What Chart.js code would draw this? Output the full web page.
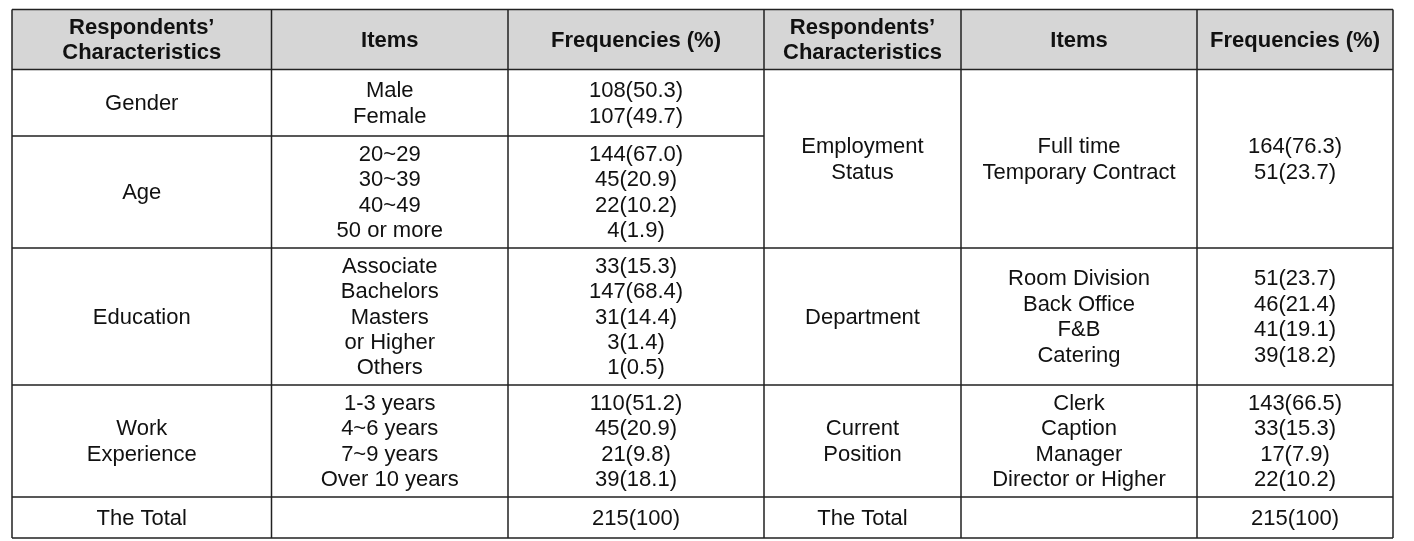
<!DOCTYPE html>
<html>
<head>
<meta charset="utf-8">
<script src="https://cdn.jsdelivr.net/npm/chart.js@4"></script>
<style>
  html, body { margin: 0; padding: 0; background: #fff; }
  #wrap { width: 1414px; height: 541px; }
</style>
</head>
<body>
<div id="wrap"><canvas id="table" width="1414" height="541"></canvas></div>
<script>
const headers = ["Respondents’\nCharacteristics", 'Items', 'Frequencies (%)'];

const leftGroups = ['Gender', 'Age', 'Education', 'Work\nExperience', 'The Total'];
const leftItems = [
  ['Male', 'Female'],
  ['20~29', '30~39', '40~49', '50 or more'],
  ['Associate', 'Bachelors', 'Masters', 'or Higher', 'Others'],
  ['1-3 years', '4~6 years', '7~9 years', 'Over 10 years'],
  []
];
const leftCounts = [[108, 107], [144, 45, 22, 4], [33, 147, 31, 3, 1], [110, 45, 21, 39], [215]];
const leftPercents = [[50.3, 49.7], [67.0, 20.9, 10.2, 1.9], [15.3, 68.4, 14.4, 1.4, 0.5], [51.2, 20.9, 9.8, 18.1], [100]];

const rightGroups = ['Employment\nStatus', 'Department', 'Current\nPosition', 'The Total'];
const rightItems = [
  ['Full time', 'Temporary Contract'],
  ['Room Division', 'Back Office', 'F&B', 'Catering'],
  ['Clerk', 'Caption', 'Manager', 'Director or Higher'],
  []
];
const rightCounts = [[164, 51], [51, 46, 41, 39], [143, 33, 17, 22], [215]];
const rightPercents = [[76.3, 23.7], [23.7, 21.4, 19.1, 18.2], [66.5, 15.3, 7.9, 10.2], [100]];

// grid layout in scale units
const colEdges = [12, 271.5, 508, 764, 961, 1197, 1393];
const headBottom = 69.5;
const leftRowEdges = [69.5, 136, 248, 385, 497, 538];
const rightRowEdges = [69.5, 248, 385, 497, 538];
const lineStep = 25.4;

function freq(c, p) {
  return c + '(' + (p === 100 ? '100' : p.toFixed(1)) + ')';
}

const tablePlugin = {
  id: 'tablePlugin',
  afterDraw(chart) {
    const ctx = chart.ctx;
    const xs = chart.scales.x, ys = chart.scales.y;
    const X = v => xs.getPixelForValue(v);
    const Y = v => ys.getPixelForValue(v);
    const top = 9.5, bottom = 538;

    ctx.save();
    // header fill
    ctx.fillStyle = '#d6d6d6';
    ctx.fillRect(X(colEdges[0]), Y(top), X(colEdges[6]) - X(colEdges[0]), Y(headBottom) - Y(top));

    function lines(text, cx, cy) {
      const parts = Array.isArray(text) ? text : text.split('\n');
      const start = cy - (parts.length - 1) * lineStep / 2;
      parts.forEach((t, i) => ctx.fillText(t, X(cx), Y(start + i * lineStep)));
    }

    ctx.fillStyle = '#111';
    ctx.textAlign = 'center';
    ctx.textBaseline = 'middle';

    // headers
    ctx.font = 'bold 22px "Liberation Sans", Arial, sans-serif';
    for (let i = 0; i < 6; i++) {
      const cx = (colEdges[i] + colEdges[i + 1]) / 2;
      lines(headers[i % 3], cx, (top + headBottom) / 2 + 1);
    }

    ctx.font = '22px "Liberation Sans", Arial, sans-serif';
    function side(groups, items, counts, pcts, edges, c0) {
      groups.forEach((g, r) => {
        const cy = (edges[r] + edges[r + 1]) / 2 + 1;
        lines(g, (colEdges[c0] + colEdges[c0 + 1]) / 2, cy);
        lines(items[r], (colEdges[c0 + 1] + colEdges[c0 + 2]) / 2, cy);
        lines(counts[r].map((c, k) => freq(c, pcts[r][k])), (colEdges[c0 + 2] + colEdges[c0 + 3]) / 2, cy);
      });
    }
    side(leftGroups, leftItems, leftCounts, leftPercents, leftRowEdges, 0);
    side(rightGroups, rightItems, rightCounts, rightPercents, rightRowEdges, 3);

    // grid lines
    ctx.strokeStyle = '#222';
    ctx.lineWidth = 1.5;
    ctx.beginPath();
    colEdges.forEach(c => { ctx.moveTo(X(c), Y(top)); ctx.lineTo(X(c), Y(bottom)); });
    ctx.moveTo(X(colEdges[0]), Y(top)); ctx.lineTo(X(colEdges[6]), Y(top));
    leftRowEdges.forEach(r => { ctx.moveTo(X(colEdges[0]), Y(r)); ctx.lineTo(X(colEdges[3]), Y(r)); });
    rightRowEdges.forEach(r => { ctx.moveTo(X(colEdges[3]), Y(r)); ctx.lineTo(X(colEdges[6]), Y(r)); });
    ctx.stroke();
    ctx.restore();
  }
};

new Chart(document.getElementById('table'), {
  type: 'scatter',
  data: { datasets: [{ data: [] }] },
  options: {
    responsive: false,
    animation: false,
    devicePixelRatio: 1,
    layout: { padding: 0 },
    plugins: { legend: { display: false }, tooltip: { enabled: false } },
    scales: {
      x: { type: 'linear', min: 0, max: 1414, display: false },
      y: { type: 'linear', min: 0, max: 541, reverse: true, display: false }
    }
  },
  plugins: [tablePlugin]
});
</script>
</body>
</html>
